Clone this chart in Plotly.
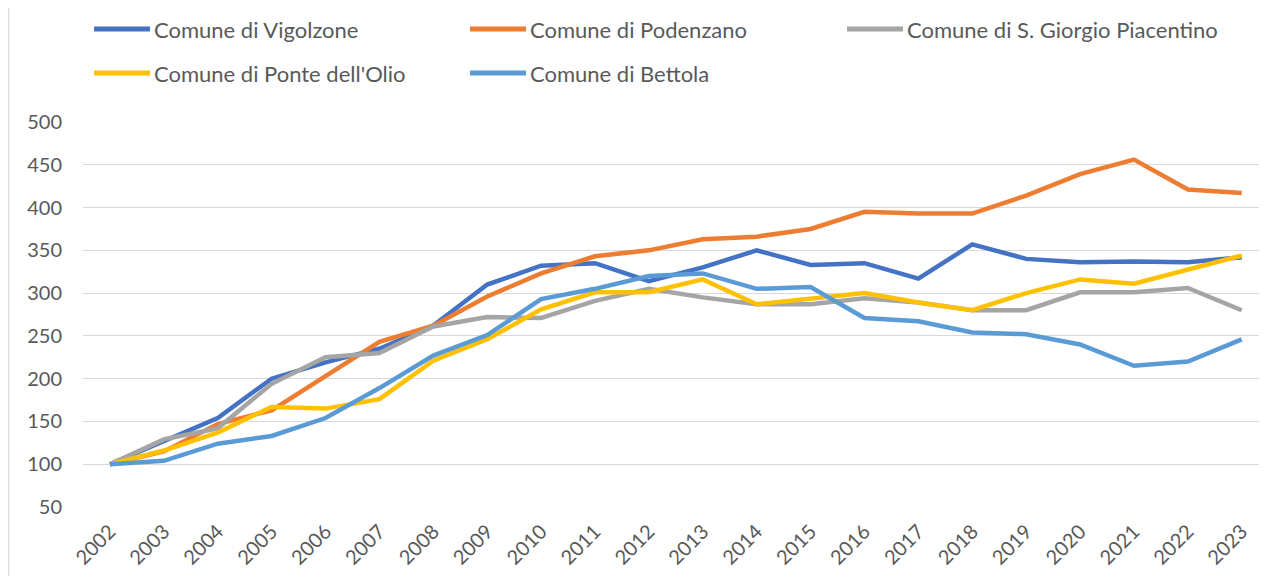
import plotly.graph_objects as go

years = [str(y) for y in range(2002, 2024)]

vigolzone = [100, 127, 154, 200, 219, 235, 262, 310, 332, 335, 314, 330, 350, 333, 335, 317, 357, 340, 336, 337, 336, 342]
podenzano = [100, 115, 147, 163, 203, 243, 262, 296, 323, 343, 350, 363, 366, 375, 395, 393, 393, 414, 439, 456, 421, 417]
sgiorgio = [100, 129, 142, 194, 225, 230, 261, 272, 271, 291, 305, 295, 287, 287, 294, 289, 280, 280, 301, 301, 306, 280]
ponte = [100, 116, 137, 167, 165, 176, 221, 246, 281, 301, 301, 316, 287, 293, 300, 289, 280, 300, 316, 311, 328, 344]
bettola = [100, 104, 124, 133, 154, 189, 227, 251, 293, 305, 320, 323, 305, 307, 271, 267, 254, 252, 240, 215, 220, 246]

names = ["Comune di Vigolzone", "Comune di Podenzano", "Comune di S. Giorgio Piacentino",
         "Comune di Ponte dell'Olio", "Comune di Bettola"]
colors = ["#4472C4", "#ED7D31", "#A5A5A5", "#FFC000", "#5B9BD5"]
values = [vigolzone, podenzano, sgiorgio, ponte, bettola]

W, H = 1251, 568
ML, MR, MT, MB = 75, 0, 114, 69
PW, PH = W - ML - MR, H - MT - MB


def px_x(px):
    return (px - ML) / PW


def px_y(py):
    return (H - MB - py) / PH


fig = go.Figure()
for name, vals, col in zip(names, values, colors):
    fig.add_trace(go.Scatter(x=years, y=vals, name=name, mode="lines",
                             line=dict(color=col, width=4.5), showlegend=False))

font = dict(family="Lato", size=20, color="#595959")
lfont = dict(family="Lato", size=22, color="#595959")

# custom legend (2 rows)
leg_pos = [(86, 21), (462, 21), (839, 21), (86, 65), (462, 65)]
shapes = []
annotations = []
for (lx, ly), name, col in zip(leg_pos, names, colors):
    shapes.append(dict(type="line", xref="paper", yref="paper",
                       x0=px_x(lx), x1=px_x(lx + 56), y0=px_y(ly), y1=px_y(ly),
                       line=dict(color=col, width=5)))
    annotations.append(dict(text=name, xref="paper", yref="paper",
                            x=px_x(lx + 58), y=px_y(ly), xanchor="left", yanchor="middle",
                            showarrow=False, font=lfont))

# chart border line on the left
shapes.append(dict(type="line", xref="paper", yref="paper",
                   x0=px_x(0.5), x1=px_x(0.5), y0=px_y(0), y1=px_y(H),
                   line=dict(color="#D9D9D9", width=1.5)))

fig.update_layout(
    width=W, height=H,
    margin=dict(l=ML, r=MR, t=MT, b=MB),
    paper_bgcolor="white", plot_bgcolor="white",
    font=font,
    showlegend=False,
    shapes=shapes,
    annotations=annotations,
    xaxis=dict(type="category", range=[-0.5, 21.32], tickangle=-45,
               showgrid=False, showline=False, ticks="", tickfont=font,
               ticklabelstandoff=8),
    yaxis=dict(range=[50, 500], tickvals=[50, 100, 150, 200, 250, 300, 350, 400, 450, 500],
               showgrid=True, gridcolor="#D9D9D9", gridwidth=1.3, zeroline=False,
               showline=False, ticks="", tickfont=font, ticklabelstandoff=20),
)

fig.write_html("out.html")
